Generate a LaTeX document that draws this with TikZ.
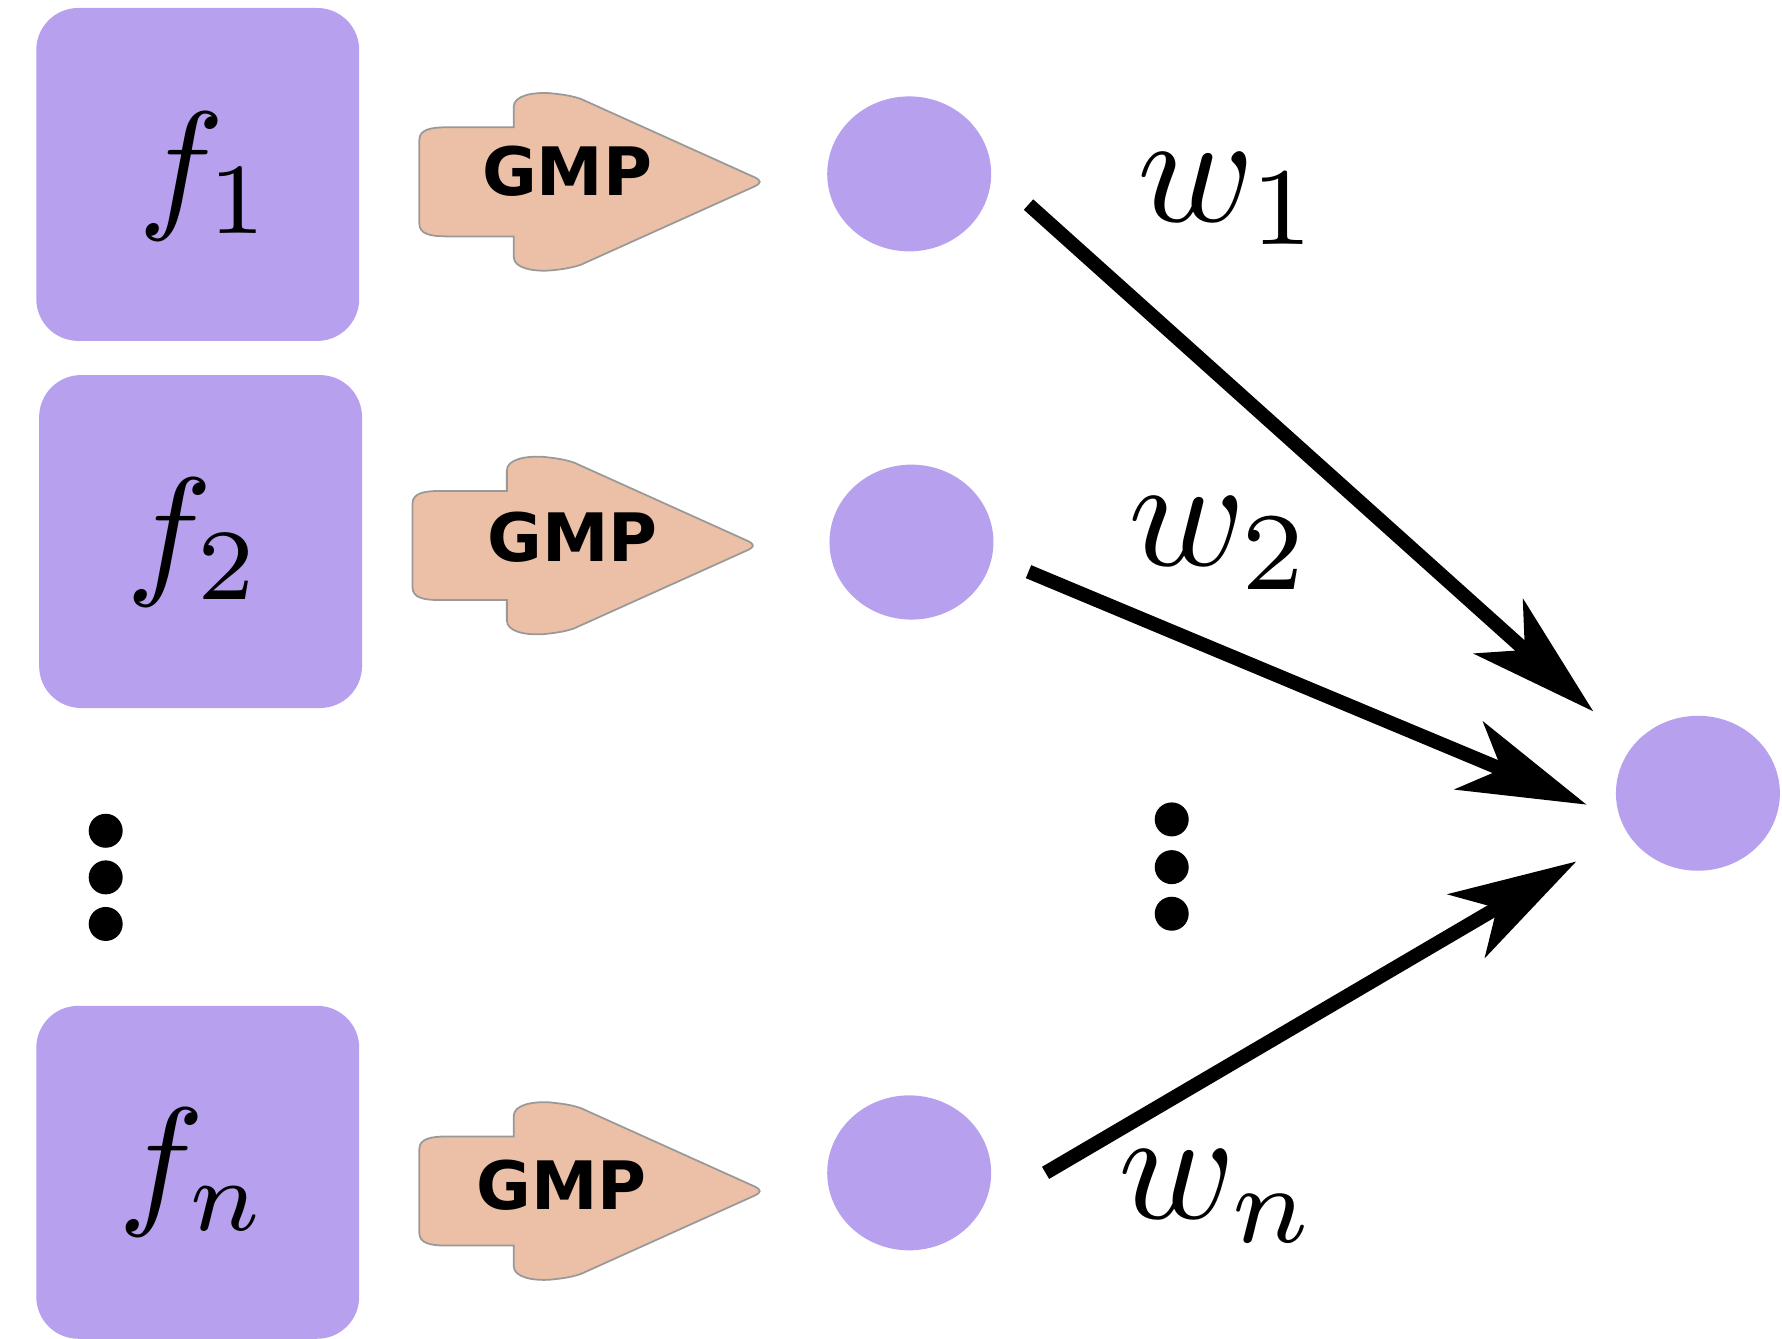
\documentclass[tikz,border=0pt]{standalone}
\usepackage{fontspec}
\newfontfamily\gmpfont{DejaVu Sans}
\usepackage{tikz}
\usetikzlibrary{calc}
\usetikzlibrary{arrows.meta}
\usetikzlibrary{shapes.geometric}
\definecolor{featpurple}{RGB}{183,161,238}
\definecolor{gmppeach}{RGB}{235,192,166}
\newcommand{\ft}[1]{$f_{#1}$}
\newcommand{\wt}[1]{$w_{#1}$}
\newcommand{\widthfeat}{3.23cm}
\newcommand{\heightfeat}{3.33cm}
\tikzset{
    feat/.style={fill=featpurple, rounded corners=0.42cm, minimum width=\widthfeat, minimum height=\heightfeat, inner sep=0pt},
    flabel/.style={scale=4.1, inner sep=0pt},
    wlabel/.style={scale=4.5, inner sep=0pt},
    unit/.style={ellipse, fill=featpurple, minimum width=1.64cm, minimum height=1.55cm, inner sep=0pt},
    gmpshape/.style={fill=gmppeach, draw=black!40, line width=0.5pt},
    gmptext/.style={font=\gmpfont\bfseries\fontsize{19}{19}\selectfont, inner sep=0pt},
    weight/.style={line width=4pt, -{Stealth[length=1.27cm, width=0.73cm, inset=0.35cm]}},
    gmp/.pic={
        \filldraw[gmpshape] (0,-37) .. controls (0,-46) and (10,-48) .. (24,-48) -- (83,-48) -- (83,-66)
            .. controls (83,-76) and (100,-79) .. (115,-78)
            .. controls (125,-77) and (133,-76) .. (142,-73) -- (295,-4)
            .. controls (301,-1) and (301,1) .. (295,4) -- (142,73)
            .. controls (133,76) and (125,77) .. (115,78)
            .. controls (100,79) and (83,76) .. (83,66) -- (83,48) -- (24,48)
            .. controls (10,48) and (0,46) .. (0,37) -- cycle;
    }
}

\begin{document}
\begin{tikzpicture}[x=0.011365cm, y=-0.011365cm]
    \useasboundingbox (0,0) rectangle (1568,1178);

    % feature maps
    \node[feat] (F1) at (174,153.5) {};
    \node[feat] (F2) at (176.5,476.5) {};
    \node[feat] (Fn) at (174,1031.5) {};
    \node[flabel] (F1-lab) at (181,155) {\ft{1}};
    \node[flabel] (F2-lab) at (171,477) {\ft{2}};
    \node[flabel] (Fn-lab) at (170,1032) {\ft{n}};
    \foreach \y in {731,772,813} \fill (93,\y) circle (0.17cm);

    % pooling arrows
    \pic (G1) at (369,160) {gmp};
    \pic (G2) at (363,480) {gmp};
    \pic (Gn) at (369,1048) {gmp};
    \node[gmptext] (G1-txt) at (499,151) {GMP};
    \node[gmptext] (G2-txt) at (504,473) {GMP};
    \node[gmptext] (Gn-txt) at (494,1043) {GMP};

    % units
    \node[unit] (U1) at (800,153) {};
    \node[unit] (U2) at (802,477) {};
    \node[unit] (Un) at (800,1032) {};
    \node[unit] (Out) at (1494,698) {};
    \foreach \y in {721,763,804} \fill (1031,\y) circle (0.17cm);

    % weights
    \coordinate (A1s) at ($(U1)+(105,27)$);
    \coordinate (A2s) at ($(U2)+(103,26)$);
    \coordinate (Ans) at ($(Un)+(120,0)$);
    \coordinate (A1e) at ($(Out)+(-92,-72)$);
    \coordinate (A2e) at ($(Out)+(-98,10)$);
    \coordinate (Ane) at ($(Out)+(-107,60)$);
    \draw[weight] (A1s) -- (A1e);
    \draw[weight] (A2s) -- (A2e);
    \draw[weight] (Ans) -- (Ane);
    \node[wlabel] (W1) at (1082,175) {\wt{1}};
    \node[wlabel] (W2) at (1074,478) {\wt{2}};
    \node[wlabel] (Wn) at (1072,1053) {\wt{n}};
\end{tikzpicture}
\end{document}
